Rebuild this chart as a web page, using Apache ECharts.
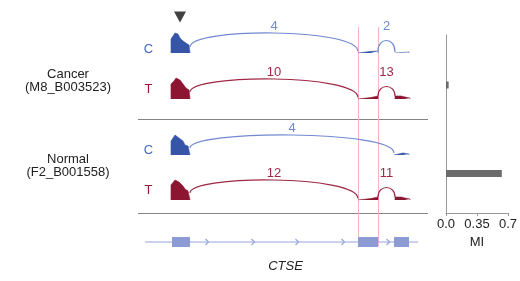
<!DOCTYPE html>
<html><head><meta charset="utf-8">
<script src="https://cdn.jsdelivr.net/npm/echarts/dist/echarts.min.js"></script>
<style>html,body{margin:0;padding:0;background:#fff}#c{width:520px;height:281px}</style>
</head><body><div id="c"></div>
<script>
// ---------------- DATA ----------------
const sampleLabels = ['Cancer\n(M8_B003523)', 'Normal\n(F2_B001558)'];
const trackLetters = ['C', 'T', 'C', 'T'];
const miCategories = ['Cancer', 'Normal'];
const miValues = [0.03, 0.63];
const miTicks = [0, 0.35, 0.7];
const geneName = 'CTSE';
const exons = [[27, 45], [213, 233], [249, 264]];
const intronArrows = [62, 108, 152, 198, 243];
const markerPos = [[35, 36]];

// coverage per exon segment: [position, coverage]
const coverageCancerC = [
  [[26,0],[26,14],[28,16],[30,20],[32,21],[33,19],[35,15],[38,12],[41,10],[44,8],[45,6],[45,0]],
  [[213,0],[213,1.5],[225,1.5],[226,2],[233,2],[233,0]],
  [[250,0],[250,1],[264,1],[264,0]]
];
const coverageCancerT = [
  [[26,0],[26,15],[29,18],[31,21],[33,22],[35,19],[38,15],[41,11],[44,9],[45,7],[45,0]],
  [[213,0],[213,1.5],[226,1.5],[228,2.5],[233,3],[233,0]],
  [[250,0],[250,3],[252,4],[256,3],[260,2],[265,1],[265,0]]
];
const coverageNormalC = [
  [[26,0],[26,14],[28,16],[30,20],[32,21],[34,17],[35,15],[38,14],[40,10],[43,9],[45,7],[45,0]],
  [[249,0],[249,2],[258,2],[264,1],[264,0]]
];
const coverageNormalT = [
  [[26,0],[26,15],[28,17],[30,20],[32,21],[34,18],[36,16],[38,14],[40,11],[43,9],[45,7],[45,0]],
  [[213,0],[213,1.5],[226,1.5],[228,2.5],[233,3],[233,0]],
  [[250,0],[250,3],[252,4],[256,3],[260,2],[265,1],[265,0]]
];
// junctions: [start, end, reads]
const junctionsCancerC = [[45, 213, 4], [233, 250, 2]];
const junctionsCancerT = [[45, 213, 10], [233, 250, 13]];
const junctionsNormalC = [[45, 249, 4]];
const junctionsNormalT = [[45, 213, 12], [233, 250, 11]];

// ---------------- LAYOUT / STYLE ----------------
const FONT = '"Liberation Sans", Arial, Helvetica, sans-serif';
const BLUE = {fill: '#3654a8', arc: '#7189d1', text: '#4668c2'};
const RED = {fill: '#8c1632', arc: '#a02845', text: '#9c1a38'};
const tracks = [
  {cov: coverageCancerC, junc: junctionsCancerC, col: BLUE, base: 53},
  {cov: coverageCancerT, junc: junctionsCancerT, col: RED, base: 99},
  {cov: coverageNormalC, junc: junctionsNormalC, col: BLUE, base: 155},
  {cov: coverageNormalT, junc: junctionsNormalT, col: RED, base: 200}
];
const letterY = [49.5, 89.5, 150.5, 190.5];
const TH = 45, LEFT = 145, RIGHT = 100, XMAX = 275;

function covAt(segs, x) {
  let m = 0;
  segs.forEach(s => s.forEach(p => { if (p[0] === x && p[1] > m) m = p[1]; }));
  return m;
}

const grids = [], xAxes = [], yAxes = [], series = [];
tracks.forEach((t, i) => {
  grids.push({left: LEFT, right: RIGHT, top: t.base - TH, height: TH, containLabel: false});
  xAxes.push({type: 'value', gridIndex: i, min: 0, max: XMAX, show: false});
  yAxes.push({type: 'value', gridIndex: i, min: 0, max: TH, show: false});
  t.cov.forEach(seg => {
    series.push({
      type: 'line', xAxisIndex: i, yAxisIndex: i, data: seg, showSymbol: false, silent: true,
      lineStyle: {color: t.col.fill, width: 0.6}, itemStyle: {color: t.col.fill},
      areaStyle: {color: t.col.fill, opacity: 1}, z: 3, animation: false
    });
  });
  const jd = t.junc.map(j => [j[0], j[1], j[2], covAt(t.cov, j[0]), covAt(t.cov, j[1])]);
  series.push({
    type: 'custom', xAxisIndex: i, yAxisIndex: i, data: jd, silent: true, z: 4, animation: false,
    renderItem: (params, api) => {
      const x1 = api.value(0), x2 = api.value(1), n = api.value(2);
      const p0 = api.coord([x1, api.value(3)]), p3 = api.coord([x2, api.value(4)]);
      const topCov = (x2 - x1) > 60 ? 20 : 12.5;
      const topY = api.coord([(x1 + x2) / 2, topCov])[1];
      const c = (8 * topY - p0[1] - p3[1]) / 6;
      const lp = api.coord([(x1 + x2) / 2, 27]);
      return {type: 'group', children: [
        {type: 'bezierCurve', shape: {x1: p0[0], y1: p0[1], x2: p3[0], y2: p3[1], cpx1: p0[0], cpy1: c, cpx2: p3[0], cpy2: c},
         style: {stroke: t.col.arc, fill: 'none', lineWidth: 1.2}},
        {type: 'text', x: lp[0], y: lp[1], style: {text: String(n), fill: t.col.arc, font: '13px ' + FONT,
          align: 'center', verticalAlign: 'middle', textAlign: 'center', textVerticalAlign: 'middle'}}
      ]};
    }
  });
});

// gene model grid (index 4)
grids.push({left: LEFT, right: RIGHT, top: 232, height: 20, containLabel: false});
xAxes.push({type: 'value', gridIndex: 4, min: 0, max: XMAX, show: false});
yAxes.push({type: 'value', gridIndex: 4, min: -1, max: 1, show: false});
const GENE = '#95a6dc';
series.push({type: 'line', xAxisIndex: 4, yAxisIndex: 4, data: [[0, 0], [273, 0]], showSymbol: false, silent: true,
  lineStyle: {color: GENE, width: 1.2}, z: 2, animation: false});
series.push({type: 'custom', xAxisIndex: 4, yAxisIndex: 4, data: intronArrows.map(v => [v, 0]), silent: true, z: 3, animation: false,
  renderItem: (params, api) => {
    const p = api.coord([api.value(0), 0]);
    return {type: 'polyline', shape: {points: [[p[0] - 1.5, p[1] - 3], [p[0] + 1.5, p[1]], [p[0] - 1.5, p[1] + 3]]},
      style: {stroke: GENE, fill: 'none', lineWidth: 1.2}};
  }});
series.push({type: 'custom', xAxisIndex: 4, yAxisIndex: 4, data: exons, silent: true, z: 5, animation: false,
  renderItem: (params, api) => {
    const a = api.coord([api.value(0), 0]), b = api.coord([api.value(1), 0]);
    return {type: 'rect', shape: {x: a[0], y: a[1] - 5, width: b[0] - a[0], height: 10}, style: {fill: '#8c9bd3'}};
  }});

// overlay grid for exon-boundary guide lines (index 5)
grids.push({left: LEFT, right: RIGHT, top: 27, bottom: 35, containLabel: false});
xAxes.push({type: 'value', gridIndex: 5, min: 0, max: XMAX, show: false});
yAxes.push({type: 'value', gridIndex: 5, min: 0, max: 1, show: false});
series.push({type: 'custom', xAxisIndex: 5, yAxisIndex: 5, data: exons[1].map(v => [v, 0]), silent: true, z: 1, animation: false,
  renderItem: (params, api) => {
    const x = Math.round(api.coord([api.value(0), 0])[0]) + 0.5;
    const cs = params.coordSys;
    return {type: 'line', shape: {x1: x, y1: cs.y, x2: x, y2: cs.y + cs.height}, style: {stroke: '#f3b6be', lineWidth: 1}};
  }});

// marker triangle on track 0
series.push({type: 'scatter', xAxisIndex: 0, yAxisIndex: 0, data: markerPos, symbol: 'triangle', symbolRotate: 180,
  symbolSize: [12, 11], itemStyle: {color: '#111'}, silent: true, z: 6, animation: false});

// MI axis grid (index 6) and MI bar grid (index 7)
grids.push({left: 446, right: 12, top: 35, bottom: 68, containLabel: false});
xAxes.push({type: 'value', gridIndex: 6, min: 0, max: 0.7, interval: 0.35,
  axisLine: {show: true, lineStyle: {color: '#999', width: 1}},
  axisTick: {show: true, length: 3, lineStyle: {color: '#999'}},
  splitLine: {show: false},
  axisLabel: {color: '#222', fontFamily: FONT, fontSize: 13, margin: 5, formatter: v => v === 0 ? '0.0' : String(v)},
  name: 'MI', nameLocation: 'middle', nameGap: 23, nameTextStyle: {color: '#222', fontFamily: FONT, fontSize: 13}});
yAxes.push({type: 'value', gridIndex: 6, min: 0, max: 1, axisLine: {show: true, lineStyle: {color: '#999', width: 1}},
  axisTick: {show: false}, axisLabel: {show: false}, splitLine: {show: false}});
grids.push({left: 446, right: 12, top: 40.75, height: 177, containLabel: false});
xAxes.push({type: 'value', gridIndex: 7, min: 0, max: 0.7, show: false});
yAxes.push({type: 'category', gridIndex: 7, data: miCategories, inverse: true, show: false});
series.push({type: 'bar', xAxisIndex: 7, yAxisIndex: 7, data: miValues, barWidth: 7, itemStyle: {color: '#6b6b6b'},
  silent: true, animation: false});

// text / decorations
const graphic = [];
sampleLabels.forEach((s, i) => {
  graphic.push({type: 'text', x: 68, y: i === 0 ? 80.5 : 166, style: {text: s, fill: '#222', font: '13px ' + FONT,
    align: 'center', verticalAlign: 'middle', textAlign: 'center', textVerticalAlign: 'middle', lineHeight: 13}});
});
trackLetters.forEach((s, i) => {
  graphic.push({type: 'text', x: 148.5, y: letterY[i], style: {text: s, fill: tracks[i].col.text, font: '13px ' + FONT,
    align: 'center', verticalAlign: 'middle', textAlign: 'center', textVerticalAlign: 'middle'}});
});
[119.5, 213.5].forEach(y => graphic.push({type: 'line', shape: {x1: 138, y1: y, x2: 428, y2: y},
  style: {stroke: '#858585', lineWidth: 1}, silent: true}));
graphic.push({type: 'text', x: 285.5, y: 266, style: {text: geneName, fill: '#222', font: 'italic 13px ' + FONT,
  align: 'center', verticalAlign: 'middle', textAlign: 'center', textVerticalAlign: 'middle'}});

const chart = echarts.init(document.getElementById('c'), null, {renderer: 'canvas'});
chart.setOption({
  animation: false, backgroundColor: '#fff',
  grid: grids, xAxis: xAxes, yAxis: yAxes, series: series, graphic: graphic
});
</script></body></html>
